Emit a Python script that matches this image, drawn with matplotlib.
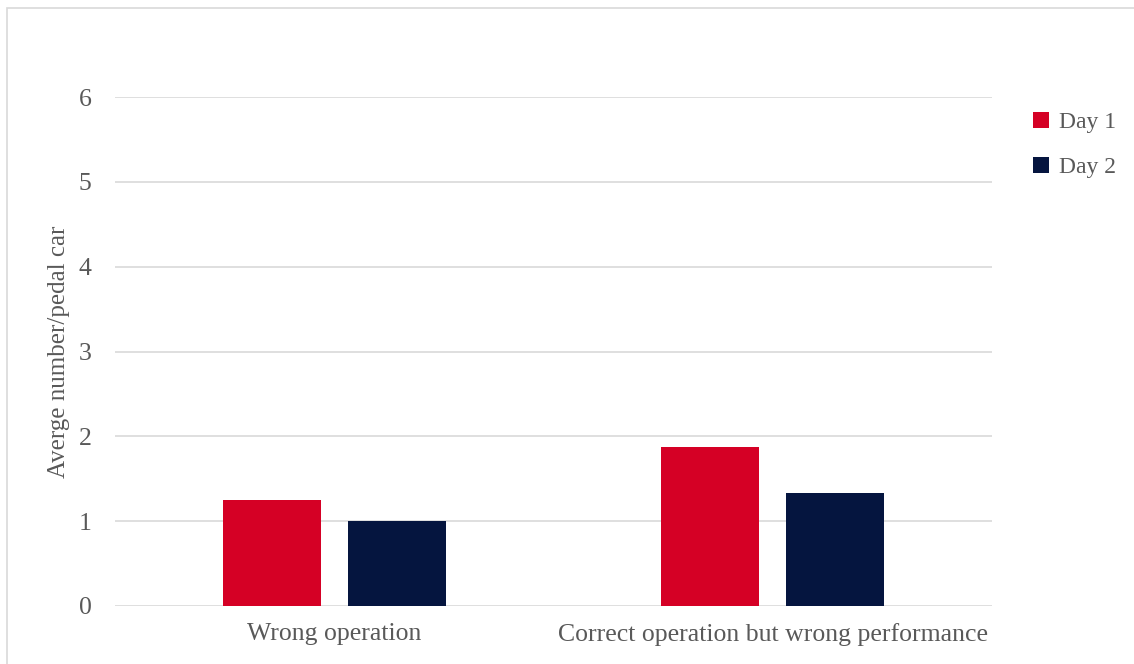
import numpy as np
import matplotlib.pyplot as plt
from matplotlib.patches import Rectangle

categories = ["Wrong operation", "Correct operation but wrong performance"]
series_names = ["Day 1", "Day 2"]
day1 = [1.25, 1.88]
day2 = [1.0, 1.33]
yticks = [0, 1, 2, 3, 4, 5, 6]

red = "#d50025"
navy = "#05153f"
grey_text = "#595959"

plt.rcParams["font.family"] = ["Liberation Serif", "DejaVu Serif"]

fig = plt.figure(figsize=(11.34, 6.64), dpi=100)
ax = fig.add_axes([115 / 1134, 1 - 606 / 664, (992 - 115) / 1134, (606 - 97) / 664])

# chart border, cropped at the right and bottom edges
fig.patches.append(Rectangle((7 / 1134, -0.1), 1.2, 1 - 8 / 664 + 0.1,
                             transform=fig.transFigure, fill=False,
                             edgecolor="#d9d9d9", linewidth=1.2))

x = np.arange(len(categories))
w = 0.2235
off = 0.1425
ax.bar(x - off, day1, w, color=red, label=series_names[0], zorder=3)
ax.bar(x + off, day2, w, color=navy, label=series_names[1], zorder=3)

ax.set_xlim(-0.5, 1.5)
ax.set_ylim(0, 6)
ax.set_yticks(yticks)
ax.set_xticks(x)
ax.set_xticklabels(categories)
ax.yaxis.grid(True, color="#d9d9d9", linewidth=1.2, zorder=0)
ax.tick_params(length=0, labelsize=18.5, colors=grey_text)
ax.tick_params(axis="y", pad=17)
ax.tick_params(axis="x", pad=12)
for s in ax.spines.values():
    s.set_visible(False)
ax.set_ylabel("Averge number/pedal car", fontsize=18, color=grey_text, labelpad=6)

leg = fig.legend(loc="upper left", bbox_to_anchor=(1012 / 1134, 1 - 91 / 664),
                 frameon=False, fontsize=17, handlelength=0.65, handleheight=0.65,
                 handletextpad=0.45, labelspacing=1.0, labelcolor=grey_text)

fig.savefig("out.png", dpi=100)
